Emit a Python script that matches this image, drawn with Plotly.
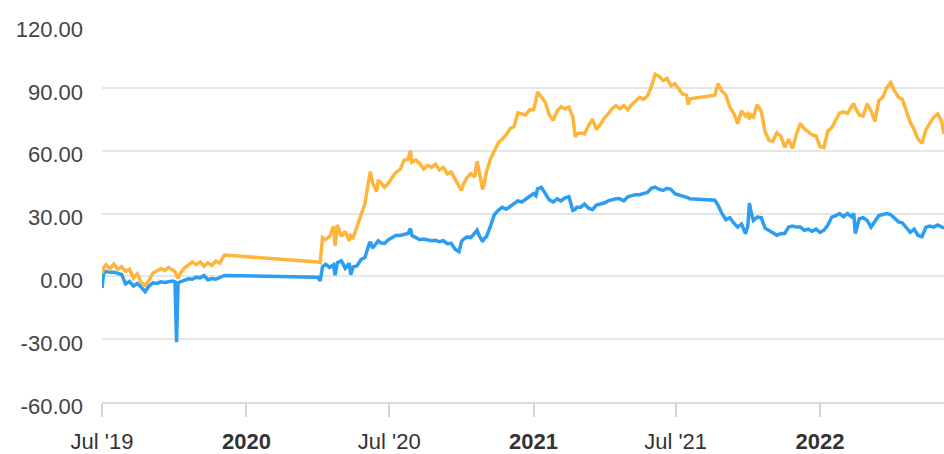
import plotly.graph_objects as go

# Observation dates (three trading stretches; the gaps are joined by straight lines)
dates = [
    "2019-07-01", "2019-07-03", "2019-07-06", "2019-07-11", "2019-07-16", "2019-07-21",
    "2019-07-26", "2019-07-31", "2019-08-05", "2019-08-10", "2019-08-15", "2019-08-20",
    "2019-08-25", "2019-08-30", "2019-09-04", "2019-09-09", "2019-09-14", "2019-09-19",
    "2019-09-24", "2019-09-29", "2019-10-02", "2019-10-04", "2019-10-06", "2019-10-09",
    "2019-10-14", "2019-10-19", "2019-10-24", "2019-10-29", "2019-11-03", "2019-11-08",
    "2019-11-13", "2019-11-18", "2019-11-23", "2019-11-28", "2019-12-01", "2019-12-04",
    "2020-04-01", "2020-04-04", "2020-04-07", "2020-04-11", "2020-04-16", "2020-04-21",
    "2020-04-23", "2020-04-26", "2020-05-01", "2020-05-06", "2020-05-11", "2020-05-13",
    "2020-05-16", "2020-05-21", "2020-05-26", "2020-05-31", "2020-06-05", "2020-06-07",
    "2020-06-10", "2020-06-15", "2020-06-17", "2020-06-20", "2020-06-25", "2020-06-30",
    "2020-07-05", "2020-07-10", "2020-07-15", "2020-07-20", "2020-07-25", "2020-07-28",
    "2020-07-30", "2020-08-04", "2020-08-09", "2020-08-14", "2020-08-19", "2020-08-24",
    "2020-08-29", "2020-09-03", "2020-09-08", "2020-09-13", "2020-09-18", "2020-09-23",
    "2020-09-28", "2020-10-01", "2020-10-03", "2020-10-08", "2020-10-13", "2020-10-18",
    "2020-10-21", "2020-10-23", "2020-10-28", "2020-10-30", "2020-11-02", "2020-11-07",
    "2020-11-12", "2020-11-17", "2020-11-22", "2020-11-27", "2020-12-02", "2020-12-07",
    "2020-12-12", "2020-12-17", "2020-12-22", "2020-12-27", "2021-01-01", "2021-01-04",
    "2021-01-06", "2021-01-11", "2021-01-16", "2021-01-21", "2021-01-26", "2021-01-31",
    "2021-02-05", "2021-02-10", "2021-02-15", "2021-02-20", "2021-02-23", "2021-02-25",
    "2021-03-02", "2021-03-07", "2021-03-12", "2021-03-17", "2021-03-22", "2021-03-27",
    "2021-04-01", "2021-04-06", "2021-04-11", "2021-04-16", "2021-04-21", "2021-04-26",
    "2021-05-01", "2021-05-06", "2021-05-11", "2021-05-16", "2021-05-21", "2021-05-26",
    "2021-05-31", "2021-06-05", "2021-06-10", "2021-06-15", "2021-06-20", "2021-06-25",
    "2021-06-30", "2021-07-05", "2021-07-10", "2021-07-15", "2021-07-17", "2021-07-19",
    "2021-08-17", "2021-08-20", "2021-08-24", "2021-08-29", "2021-09-03", "2021-09-08",
    "2021-09-13", "2021-09-18", "2021-09-23", "2021-09-28", "2021-10-01", "2021-10-03",
    "2021-10-05", "2021-10-08", "2021-10-13", "2021-10-18", "2021-10-23", "2021-10-28",
    "2021-11-02", "2021-11-07", "2021-11-12", "2021-11-17", "2021-11-22", "2021-11-27",
    "2021-12-02", "2021-12-07", "2021-12-12", "2021-12-17", "2021-12-22", "2021-12-27",
    "2022-01-01", "2022-01-06", "2022-01-11", "2022-01-16", "2022-01-21", "2022-01-26",
    "2022-01-31", "2022-02-05", "2022-02-10", "2022-02-13", "2022-02-15", "2022-02-20",
    "2022-02-25", "2022-03-02", "2022-03-07", "2022-03-12", "2022-03-17", "2022-03-22",
    "2022-03-27", "2022-04-01", "2022-04-06", "2022-04-11", "2022-04-16", "2022-04-21",
    "2022-04-26", "2022-05-01", "2022-05-06", "2022-05-11", "2022-05-16", "2022-05-21",
    "2022-05-26", "2022-05-31", "2022-06-05", "2022-06-08",
]

# Cumulative return, %, orange series
orange_values = [
    1.3, 4.0, 5.5, 3.6, 5.8, 3.2, 4.6, 2.4, 3.4, -0.8, 1.2, -3.0,
    -4.3, -1.8, 1.6, 2.8, 3.6, 2.9, 4.2, 3.0, 2.2, 0.4, -1.0, 1.5,
    4.0, 5.3, 6.9, 5.6, 6.8, 4.9, 6.4, 5.2, 7.2, 6.3, 8.4, 10.2,
    6.8, 6.5, 18.5, 17.5, 19.0, 23.8, 14.5, 24.5, 19.0, 21.5, 17.0, 19.5,
    18.5, 23.5, 29.5, 34.5, 46.0, 50.0, 44.5, 40.5, 45.5, 45.0, 42.5, 44.5,
    47.4, 49.8, 51.0, 55.5, 55.8, 60.0, 54.5, 55.6, 53.8, 51.2, 53.0, 52.0,
    53.5, 50.8, 52.0, 49.0, 49.8, 46.5, 43.5, 41.0, 43.5, 47.0, 49.0, 47.5,
    55.0, 51.0, 41.5, 44.0, 50.0, 56.0, 59.8, 63.8, 65.5, 67.5, 70.5, 71.5,
    78.0, 77.5, 77.0, 79.5, 79.5, 84.0, 88.0, 85.6, 83.0, 77.0, 74.5, 79.0,
    81.0, 80.0, 80.8, 76.0, 66.5, 68.0, 68.5, 68.0, 72.0, 75.0, 70.0, 72.5,
    75.5, 77.6, 80.0, 81.5, 80.0, 81.5, 79.5, 82.0, 83.5, 85.5, 84.5, 86.0,
    90.5, 96.5, 95.5, 93.5, 94.5, 91.0, 92.0, 89.8, 87.0, 86.5, 82.0, 84.8,
    86.0, 86.5, 92.0, 88.5, 86.5, 80.8, 78.0, 72.9, 79.0, 76.5, 77.5, 75.0,
    77.0, 76.0, 82.0, 79.0, 69.0, 65.0, 64.5, 68.5, 67.0, 61.7, 65.5, 61.0,
    68.0, 73.0, 70.5, 69.0, 67.5, 67.0, 62.0, 61.5, 69.5, 71.0, 74.5, 78.0,
    78.5, 77.8, 81.0, 82.5, 80.5, 77.0, 76.5, 82.4, 79.0, 74.0, 84.0, 85.5,
    90.0, 92.5, 88.5, 85.5, 84.5, 79.0, 73.5, 70.0, 65.5, 63.5, 70.0, 73.0,
    76.0, 77.5, 74.0, 68.0,
]

# Cumulative return, %, blue series
blue_values = [
    -5.6, 1.2, 2.3, 1.9, 2.0, 1.4, 0.9, -3.6, -2.5, -4.6, -3.4, -5.2,
    -7.3, -4.6, -3.1, -3.4, -2.6, -2.9, -2.4, -2.2, -2.6, -31.5, -3.0, -2.6,
    -1.9, -1.2, -1.4, -0.4, -0.7, 0.4, -1.6, -1.1, -1.4, -0.6, -0.2, 0.4,
    -0.4, -2.2, 4.5, 5.8, 4.2, 5.5, 0.5, 6.5, 7.4, 3.8, 6.2, 0.8,
    4.5, 5.0, 8.0, 9.0, 15.0, 16.5, 13.5, 15.8, 17.0, 16.0, 15.7, 17.5,
    18.8, 19.6, 19.5, 20.0, 20.5, 22.8, 19.5, 18.5, 17.5, 17.8, 17.2, 17.0,
    17.2, 16.5, 17.0, 15.6, 15.8, 13.0, 11.8, 16.5, 17.5, 18.8, 18.5, 20.5,
    22.0, 20.0, 16.5, 18.0, 19.0, 24.0, 29.5, 31.5, 33.0, 32.0, 33.5, 35.0,
    36.0, 35.5, 37.0, 38.0, 39.5, 38.5, 41.8, 42.5, 39.5, 36.5, 35.5, 37.0,
    36.0, 37.5, 38.0, 31.5, 32.0, 33.0, 33.0, 34.5, 32.5, 31.8, 34.0, 34.5,
    35.0, 36.0, 36.5, 37.0, 37.0, 36.0, 38.0, 38.5, 39.0, 39.0, 39.5, 40.0,
    42.0, 42.6, 41.5, 41.0, 42.0, 41.5, 39.5, 39.0, 38.5, 38.0, 37.5, 37.0,
    36.4, 36.3, 34.0, 30.0, 27.0, 28.0, 25.5, 23.5, 25.0, 20.4, 24.0, 35.0,
    31.0, 26.7, 28.3, 28.0, 23.0, 22.0, 21.0, 19.6, 20.4, 20.4, 23.5, 24.0,
    23.5, 23.5, 22.0, 22.5, 21.5, 22.5, 21.0, 22.0, 24.5, 28.3, 29.0, 30.0,
    28.5, 30.0, 28.5, 30.0, 20.4, 27.5, 28.0, 26.7, 23.5, 26.5, 29.0, 29.5,
    30.0, 29.5, 28.0, 26.0, 25.5, 23.5, 21.0, 22.5, 19.5, 19.0, 23.5, 24.0,
    23.5, 24.5, 23.5, 23.0,
]

y_ticks = [-60, -30, 0, 30, 60, 90, 120]
y_tick_labels = ["-60.00", "-30.00", "0.00", "30.00", "60.00", "90.00", "120.00"]
x_tick_dates = ["2019-07-01", "2020-01-01", "2020-07-01", "2021-01-01", "2021-07-01", "2022-01-01"]
x_tick_labels = ["Jul '19", "<b>2020</b>", "Jul '20", "<b>2021</b>", "Jul '21", "<b>2022</b>"]

FONT = "Liberation Sans, Arial, Helvetica, sans-serif"

fig = go.Figure()
fig.add_trace(go.Scatter(
    x=dates, y=blue_values, mode="lines",
    line=dict(color="#2B9DF3", width=3.5), hoverinfo="skip", showlegend=False,
))
fig.add_trace(go.Scatter(
    x=dates, y=orange_values, mode="lines",
    line=dict(color="#FDB53C", width=3.5), hoverinfo="skip", showlegend=False,
))

fig.update_layout(
    width=944, height=454,
    margin=dict(l=102, r=0, t=25, b=52, autoexpand=False),
    paper_bgcolor="white", plot_bgcolor="white",
    font=dict(family=FONT, size=22, color="#444444"),
    xaxis=dict(
        range=["2019-07-01", "2022-06-08"],
        tickmode="array", tickvals=x_tick_dates, ticktext=x_tick_labels,
        showgrid=False, zeroline=False,
        showline=True, linecolor="#dadada", linewidth=2,
        ticks="outside", ticklen=13, tickwidth=1.5, tickcolor="#d4d4d4",
        ticklabelstandoff=6,
        tickfont=dict(family=FONT, size=22, color="#333333"),
        fixedrange=True,
    ),
    yaxis=dict(
        range=[-60, 120],
        tickmode="array", tickvals=y_ticks, ticktext=y_tick_labels,
        showgrid=True, gridcolor="#e6e6e6", gridwidth=2,
        zeroline=False, showline=False, ticks="",
        ticklabelstandoff=18, ticklabelshift=4,
        tickfont=dict(family=FONT, size=22, color="#444444"),
        fixedrange=True,
    ),
)

fig.write_html("out.html")
